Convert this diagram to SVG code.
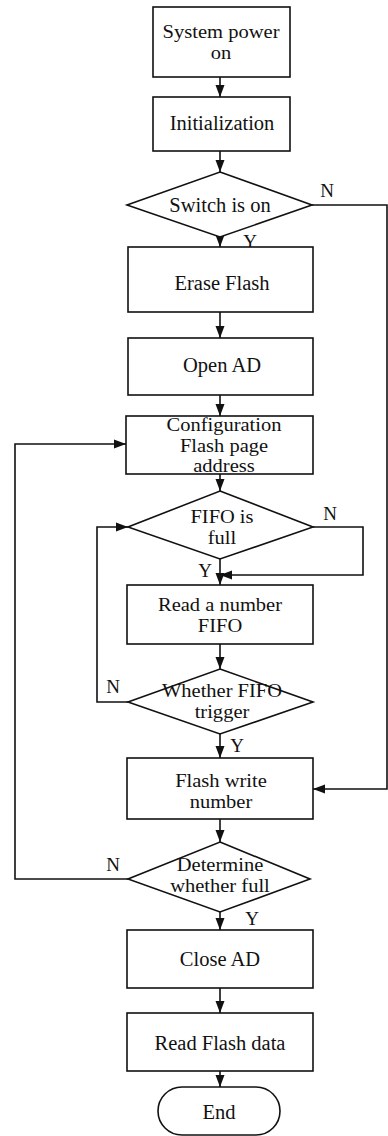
<svg xmlns="http://www.w3.org/2000/svg" width="388" height="1136" viewBox="0 0 388 1136">
<style>
.s{fill:#fff;stroke:#111;stroke-width:1.6}
.c{fill:none;stroke:#111;stroke-width:1.6}
text{font-family:"Liberation Serif","Times New Roman",serif;font-size:20.5px;fill:#111;text-anchor:middle}
.m{font-size:18px}
.l{font-size:19px}
</style>
<defs>
<marker id="a" markerUnits="userSpaceOnUse" markerWidth="14" markerHeight="10" refX="12" refY="5" orient="auto">
<path d="M0,0.5 L12,5 L0,9.5 Z" fill="#111"/>
</marker>
</defs>
<rect width="388" height="1136" fill="#fff"/>
<g id="connectors">
<path class="c" d="M220,77 V97" marker-end="url(#a)"/>
<path class="c" d="M220,151 V172" marker-end="url(#a)"/>
<path class="c" d="M220,237 V247" marker-end="url(#a)"/>
<path class="c" d="M220,312 V338" marker-end="url(#a)"/>
<path class="c" d="M220,395 V416" marker-end="url(#a)"/>
<path class="c" d="M220,474 V491" marker-end="url(#a)"/>
<path class="c" d="M313,527 H363 V575 H220" marker-end="url(#a)"/>
<path class="c" d="M220,559 V585" marker-end="url(#a)"/>
<path class="c" d="M220,644 V669" marker-end="url(#a)"/>
<path class="c" d="M128,702 H97 V527 H128" marker-end="url(#a)"/>
<path class="c" d="M220,734 V758" marker-end="url(#a)"/>
<path class="c" d="M312,205 H387 V789 H313" marker-end="url(#a)"/>
<path class="c" d="M220,819 V842" marker-end="url(#a)"/>
<path class="c" d="M128,879 H15 V444 H126" marker-end="url(#a)"/>
<path class="c" d="M220,912 V930" marker-end="url(#a)"/>
<path class="c" d="M220,988 V1013" marker-end="url(#a)"/>
<path class="c" d="M220,1071 V1087" marker-end="url(#a)"/>
<text class="l" x="327" y="197">N</text>
<text class="l" x="250" y="248">Y</text>
<text class="l" x="330" y="520">N</text>
<text class="l" x="205" y="577">Y</text>
<text class="l" x="113" y="693">N</text>
<text class="l" x="237" y="752">Y</text>
<text class="l" x="113" y="871">N</text>
<text class="l" x="252" y="925">Y</text>
</g>
<g id="power">
<rect class="s" x="153" y="7" width="137" height="70"/>
<text class="m" x="221" y="38" textLength="117" lengthAdjust="spacingAndGlyphs">System power</text>
<text class="m" x="221" y="59" textLength="20.5" lengthAdjust="spacingAndGlyphs">on</text>
</g>
<g id="init">
<rect class="s" x="153" y="97" width="137" height="54"/>
<text x="222" y="130">Initialization</text>
</g>
<g id="switch">
<polygon class="s" points="220,172 312,205 220,237 127,205"/>
<text x="220" y="212">Switch is on</text>
</g>
<g id="erase">
<rect class="s" x="128" y="247" width="185" height="65"/>
<text x="222" y="290">Erase Flash</text>
</g>
<g id="openad">
<rect class="s" x="128" y="338" width="185" height="57"/>
<text x="222" y="372">Open AD</text>
</g>
<g id="config">
<rect class="s" x="126" y="416" width="187" height="58"/>
<text class="m" x="224" y="431" textLength="115" lengthAdjust="spacingAndGlyphs">Configuration</text>
<text class="m" x="224" y="452" textLength="88" lengthAdjust="spacingAndGlyphs">Flash page</text>
<text class="m" x="224" y="472" textLength="61.5" lengthAdjust="spacingAndGlyphs">address</text>
</g>
<g id="fifofull">
<polygon class="s" points="220,491 313,527 220,559 128,527"/>
<text class="m" x="222" y="522.5" textLength="63" lengthAdjust="spacingAndGlyphs">FIFO is</text>
<text class="m" x="222" y="543.5" textLength="28.5" lengthAdjust="spacingAndGlyphs">full</text>
</g>
<g id="readfifo">
<rect class="s" x="127" y="585" width="186" height="59"/>
<text class="m" x="220" y="611" textLength="124" lengthAdjust="spacingAndGlyphs">Read a number</text>
<text class="m" x="220" y="632" textLength="44.4" lengthAdjust="spacingAndGlyphs">FIFO</text>
</g>
<g id="trigger">
<polygon class="s" points="220,669 313,702 220,734 128,702"/>
<text class="m" x="222" y="697" textLength="120" lengthAdjust="spacingAndGlyphs">Whether FIFO</text>
<text class="m" x="222" y="718" textLength="54.7" lengthAdjust="spacingAndGlyphs">trigger</text>
</g>
<g id="write">
<rect class="s" x="127" y="758" width="186" height="61"/>
<text class="m" x="221" y="786.5" textLength="91.7" lengthAdjust="spacingAndGlyphs">Flash write</text>
<text class="m" x="221" y="807.5" textLength="62.6" lengthAdjust="spacingAndGlyphs">number</text>
</g>
<g id="determine">
<polygon class="s" points="220,842 310,879 220,912 128,879"/>
<text class="m" x="220" y="870.5" textLength="86.5" lengthAdjust="spacingAndGlyphs">Determine</text>
<text class="m" x="220" y="891.5" textLength="99.6" lengthAdjust="spacingAndGlyphs">whether full</text>
</g>
<g id="closead">
<rect class="s" x="127" y="930" width="186" height="58"/>
<text x="220" y="966">Close  AD</text>
</g>
<g id="readflash">
<rect class="s" x="127" y="1013" width="186" height="58"/>
<text x="220" y="1050">Read Flash data</text>
</g>
<g id="end">
<rect class="s" x="158" y="1087" width="122" height="48" rx="24"/>
<text x="219" y="1119">End</text>
</g>
</svg>
